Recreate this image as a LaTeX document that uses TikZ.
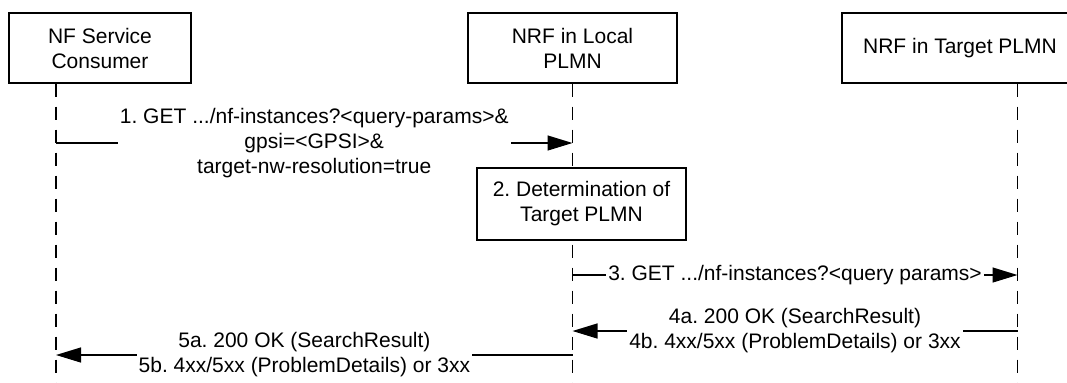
\documentclass[tikz,border=0pt]{standalone}
\usepackage{fontspec}
\setmainfont{Liberation Sans}
\usetikzlibrary{arrows.meta}
\frenchspacing
\begin{document}
\begin{tikzpicture}[x=0.5pt,y=-0.5pt,
  font=\fontsize{10.5}{12.5}\selectfont\frenchspacing,
  actor/.style={draw, line width=0.65pt, fill=white, align=center, minimum height=35pt, inner sep=0pt},
  life/.style={line width=0.55pt, dash pattern=on 6.5pt off 5pt},
  msg/.style={line width=0.65pt, -{Triangle[length=12.5pt,width=7.5pt]}},
  lbl/.style={fill=white, align=center, inner sep=1pt}]
\useasboundingbox (0,0) rectangle (1067,382);
\begin{scope}
\clip (0,0) rectangle (1067,382);
% lifeline bottoms
\coordinate (nfb) at (56,386);
\coordinate (lob) at (572.5,386);
\coordinate (tgb) at (1017.5,386);
% actors
\node[actor, minimum width=91pt] (nf) at (100,48) {NF Service\\Consumer};
\node[actor, minimum width=104.5pt] (lo) at (572.5,48) {NRF in Local\\PLMN};
\node[actor, minimum width=118pt] (tg) at (960,48) {NRF in Target PLMN};
% lifelines
\draw[life] (nfb |- nf.south) -- (nfb);
\draw[life] (lob |- lo.south) -- (lob);
\draw[life] (tgb |- tg.south) -- (tgb);
% messages
\draw[msg] (nfb |- 0,143) -- (lob |- 0,143)
  node[lbl, midway] (t1) {1. GET .../nf-instances?<query-params>\&\\gpsi=<GPSI>\&\\target-nw-resolution=true};
% step 2 box
\node[actor, minimum width=104.5pt, minimum height=36pt] (det) at (581.5,204) {2. Determination of\\Target PLMN};
\draw[msg] (lob |- 0,275) -- (tgb |- 0,275)
  node[lbl, midway] (t3) {3. GET .../nf-instances?<query params>};
\draw[msg] (tgb |- 0,331) -- (lob |- 0,331)
  node[lbl, midway] (t4) {4a. 200 OK (SearchResult)\\4b. 4xx/5xx (ProblemDetails) or 3xx};
\draw[msg] (lob |- 0,355) -- (nfb |- 0,355)
  node[lbl, pos=0.519] (t5) {5a. 200 OK (SearchResult)\\5b. 4xx/5xx (ProblemDetails) or 3xx};
\end{scope}
\end{tikzpicture}
\end{document}
